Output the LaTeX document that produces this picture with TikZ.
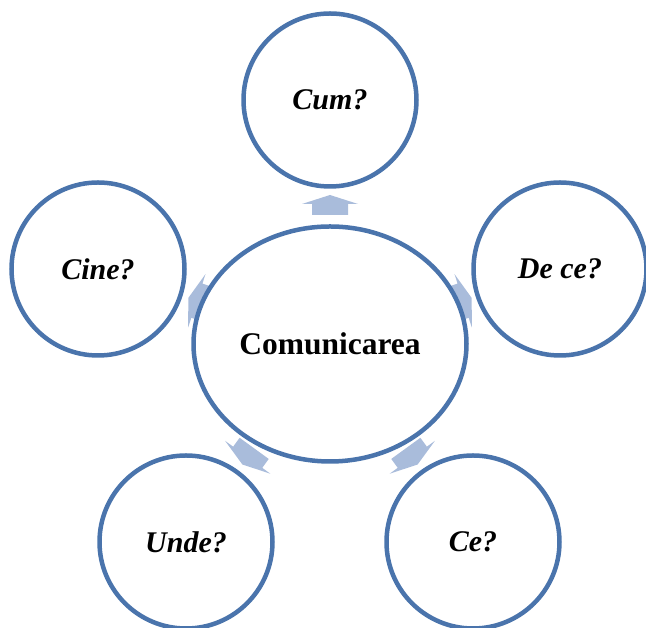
\documentclass[tikz,border=0pt]{standalone}
\usepackage{fontspec}
\setmainfont{Liberation Serif}
\usetikzlibrary{shapes.geometric}
\definecolor{ringblue}{HTML}{4A74AC}
\definecolor{arrowblue}{HTML}{A9BCDB}
\begin{document}
\begin{tikzpicture}[x=1pt,y=1pt,
  ring/.style={draw=ringblue,line width=4.5pt,fill=white,circle,minimum size=173pt,inner sep=0pt},
  hub/.style={draw=ringblue,line width=4.5pt,fill=white,ellipse,minimum width=273pt,minimum height=235pt,inner sep=0pt},
  qlabel/.style={font=\fontsize{30}{35}\selectfont\bfseries\itshape},
  blockarrow/.style={fill=arrowblue,draw=none}]
\useasboundingbox (0,0) rectangle (646,628);
\clip (0,0) rectangle (646,628);
\coordinate (c) at (330,284);
% arrows (drawn first, circles cover them)
\foreach \ang/\nm in {90/a1,18/a2,-54/a3,-126/a4,162/a5}{
  \begin{scope}[shift={(c)},rotate=\ang]
    \coordinate (\nm) at (139,0);
    \fill[blockarrow] (129,-18) -- (140,-18) -- (140,-28) -- (149,0) -- (140,28) -- (140,18) -- (129,18) -- cycle;
  \end{scope}
}
\node[hub] (hubnode) at (c) {};
\node[font=\fontsize{31.5}{36}\selectfont\bfseries] (hubtext) at (c) {Comunicarea};
\node[ring,qlabel] (cum) at (330,528) {Cum?};
\node[ring,qlabel] (dece) at (560,359) {De ce?};
\node[ring,qlabel] (cine) at (98,359) {Cine?};
\node[ring,qlabel] (unde) at (186,86) {Unde?};
\node[ring,qlabel] (ce) at (473,86) {Ce?};
\end{tikzpicture}
\end{document}
